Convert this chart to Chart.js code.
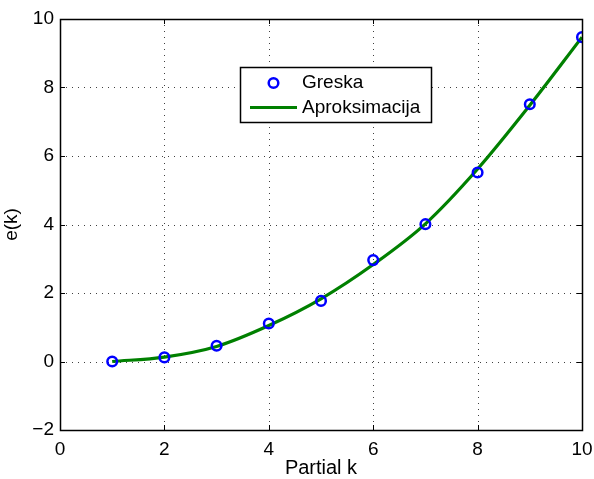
<!DOCTYPE html>
<html>
<head>
<meta charset="utf-8">
<script src="https://cdn.jsdelivr.net/npm/chart.js@4/dist/chart.umd.min.js"></script>
<style>
  html, body { margin: 0; padding: 0; background: #fff; }
  #wrap { width: 594px; height: 479px; }
</style>
</head>
<body>
<div id="wrap"><canvas id="c" width="594" height="479"></canvas></div>
<script>
// Partial sums index and error values
const kValues = [1, 2, 3, 4, 5, 6, 7, 8, 9, 10];
const greska = [0, 0.12, 0.46, 1.11, 1.77, 2.96, 4.01, 5.52, 7.51, 9.47];
const aproksimacija = [0, 0.13, 0.44, 1.05, 1.83, 2.83, 4.02, 5.62, 7.48, 9.47];
const xTicks = [0, 2, 4, 6, 8, 10];
const yTicks = [-2, 0, 2, 4, 6, 8, 10];
const seriesNames = ['Greska', 'Aproksimacija'];
const axisNames = { x: 'Partial k', y: 'e(k)' };

const FONT = '"Liberation Sans", Arial, Helvetica, sans-serif';

// Dotted grid, inward ticks and a closed box around the plot area
const boxAxes = {
  id: 'boxAxes',
  beforeDatasetsDraw(chart) {
    const { ctx, chartArea: a, scales: { x, y } } = chart;
    ctx.save();
    ctx.strokeStyle = 'rgba(0,0,0,0.75)';
    ctx.lineWidth = 1;
    ctx.setLineDash([1, 5]);
    xTicks.forEach(v => {
      if (v <= x.min || v >= x.max) return;
      const px = Math.round(x.getPixelForValue(v)) + 0.5;
      ctx.beginPath(); ctx.moveTo(px, a.top); ctx.lineTo(px, a.bottom); ctx.stroke();
    });
    yTicks.forEach(v => {
      if (v <= y.min || v >= y.max) return;
      const py = Math.round(y.getPixelForValue(v)) + 0.5;
      ctx.beginPath(); ctx.moveTo(a.left, py); ctx.lineTo(a.right, py); ctx.stroke();
    });
    ctx.restore();
  },
  afterDatasetsDraw(chart) {
    const { ctx, chartArea: a, scales: { x, y } } = chart;
    const t = 5;
    ctx.save();
    ctx.strokeStyle = '#000';
    ctx.lineWidth = 1;
    ctx.setLineDash([]);
    xTicks.forEach(v => {
      const px = Math.round(x.getPixelForValue(v)) + 0.5;
      ctx.beginPath();
      ctx.moveTo(px, a.bottom); ctx.lineTo(px, a.bottom - t);
      ctx.moveTo(px, a.top); ctx.lineTo(px, a.top + t);
      ctx.stroke();
    });
    yTicks.forEach(v => {
      const py = Math.round(y.getPixelForValue(v)) + 0.5;
      ctx.beginPath();
      ctx.moveTo(a.left, py); ctx.lineTo(a.left + t, py);
      ctx.moveTo(a.right, py); ctx.lineTo(a.right - t, py);
      ctx.stroke();
    });
    ctx.lineWidth = 1.5;
    ctx.strokeRect(Math.round(a.left) + 0.5, Math.round(a.top) + 0.5,
                   Math.round(a.right - a.left), Math.round(a.bottom - a.top));
    ctx.restore();
  }
};

// Boxed legend inside the plot area
const boxLegend = {
  id: 'boxLegend',
  afterDraw(chart) {
    const { ctx } = chart;
    const L = 240, T = 67, W = 191, H = 55;
    ctx.save();
    ctx.fillStyle = '#fff';
    ctx.fillRect(L, T, W, H);
    ctx.strokeStyle = '#000';
    ctx.lineWidth = 1.5;
    ctx.strokeRect(L + 0.5, T + 0.5, W, H);
    // marker entry
    const ds0 = chart.data.datasets[0];
    ctx.beginPath();
    ctx.arc(273.5, 83, 4.8, 0, Math.PI * 2);
    ctx.strokeStyle = ds0.borderColor;
    ctx.lineWidth = ds0.borderWidth;
    ctx.stroke();
    // line entry
    const ds1 = chart.data.datasets[1];
    ctx.beginPath();
    ctx.moveTo(250, 107.5); ctx.lineTo(297, 107.5);
    ctx.strokeStyle = ds1.borderColor;
    ctx.lineWidth = ds1.borderWidth;
    ctx.stroke();
    ctx.fillStyle = '#000';
    ctx.font = '19px ' + FONT;
    ctx.textBaseline = 'middle';
    ctx.textAlign = 'left';
    ctx.fillText(ds0.label, 302, 83);
    ctx.fillText(ds1.label, 302, 108);
    ctx.restore();
  }
};

new Chart(document.getElementById('c'), {
  type: 'scatter',
  data: {
    datasets: [
      {
        label: seriesNames[0],
        data: kValues.map((k, i) => ({ x: k, y: greska[i] })),
        showLine: false,
        pointStyle: 'circle',
        pointRadius: 4.8,
        pointBorderWidth: 2.5,
        borderWidth: 2.5,
        borderColor: '#0000ff',
        pointBorderColor: '#0000ff',
        backgroundColor: 'rgba(0,0,0,0)',
        pointBackgroundColor: 'rgba(0,0,0,0)',
        order: 0
      },
      {
        label: seriesNames[1],
        data: kValues.map((k, i) => ({ x: k, y: aproksimacija[i] })),
        showLine: true,
        borderColor: '#008000',
        borderWidth: 3.2,
        pointRadius: 0,
        cubicInterpolationMode: 'monotone',
        fill: false,
        order: 1
      }
    ]
  },
  options: {
    responsive: false,
    animation: false,
    events: [],
    layout: { padding: { top: 19, right: 12, left: 0, bottom: 0 } },
    plugins: { legend: { display: false }, tooltip: { enabled: false } },
    scales: {
      x: {
        type: 'linear',
        min: 0, max: 10,
        afterBuildTicks(s) { s.ticks = xTicks.map(v => ({ value: v })); },
        afterFit(s) { s.height = 49; s.paddingLeft = 0; s.paddingRight = 0; },
        grid: { display: false, drawTicks: false },
        border: { display: false },
        ticks: { color: '#000', font: { family: FONT, size: 19 }, padding: 8, maxRotation: 0 },
        title: { display: true, text: axisNames.x, color: '#000', font: { family: FONT, size: 20 }, padding: { top: 0, bottom: -1 } }
      },
      y: {
        type: 'linear',
        min: -2, max: 10,
        afterBuildTicks(s) { s.ticks = yTicks.map(v => ({ value: v })); },
        afterFit(s) { s.width = 60; s.paddingTop = 0; s.paddingBottom = 0; },
        grid: { display: false, drawTicks: false },
        border: { display: false },
        ticks: {
          color: '#000', font: { family: FONT, size: 19 }, padding: 6,
          callback: v => String(v).replace('-', '\u2212')
        },
        title: { display: true, text: axisNames.y, color: '#000', font: { family: FONT, size: 19 }, padding: { top: 0, bottom: 0 } }
      }
    }
  },
  plugins: [boxAxes, boxLegend]
});
</script>
</body>
</html>
